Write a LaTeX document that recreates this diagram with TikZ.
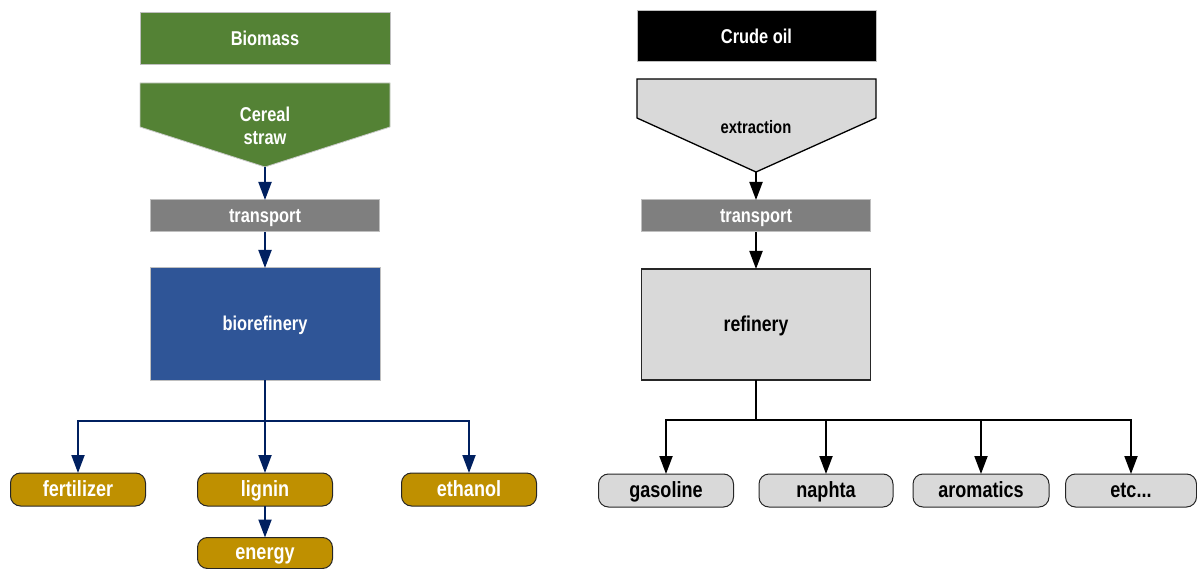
\documentclass[tikz,border=0pt]{standalone}
\usepackage{fontspec}
\newfontfamily\narrowsans{Liberation Sans}[FakeStretch=0.82]
\usetikzlibrary{arrows.meta}
\definecolor{leafgreen}{HTML}{548235}
\definecolor{plantblue}{HTML}{2F5597}
\definecolor{midgray}{HTML}{7F7F7F}
\definecolor{lightfill}{HTML}{D9D9D9}
\definecolor{gold}{HTML}{BF9000}
\definecolor{navy}{HTML}{002060}
\tikzset{
  base/.style={inner sep=0pt, outer sep=0pt, align=center,
    font=\narrowsans\bfseries\fontsize{20}{23}\selectfont},
  oneline/.style={base, text height=16.5pt, text depth=3pt},
  softbox/.style={oneline, draw=black!25, line width=1pt, text=white},
  darkbox/.style={oneline, draw=black!85, line width=1.3pt},
  product/.style={oneline, rounded corners=10pt, draw=black!85, line width=1pt,
    minimum height=33pt, font=\narrowsans\bfseries\fontsize{22}{24}\selectfont},
  bioflow/.style={draw=navy, line width=2pt},
  bioarrow/.style={bioflow, -{Triangle[width=13pt,length=18pt]}},
  oilflow/.style={draw=black, line width=2pt},
  oilarrow/.style={oilflow, -{Triangle[width=13pt,length=18pt]}},
}
\begin{document}
\begin{tikzpicture}[x=1pt,y=-1pt]
\useasboundingbox (0,0) rectangle (1197,569);

% ---------- biomass chain ----------
\node[softbox, fill=leafgreen, minimum width=250pt, minimum height=52pt] (biomass) at (265,39) {Biomass};
\draw[fill=leafgreen, draw=black!20, line width=0.8pt]
  (140,83) -- (390,83) -- (390,127) -- (265,167) -- (140,127) -- cycle;
\node[base, text=white] (straw) at (265,125.5) {Cereal\\straw};
\coordinate (strawtip) at (265,167);
\node[softbox, fill=midgray, minimum width=229pt, minimum height=32pt] (ltransport) at (265,216) {transport};
\node[softbox, fill=plantblue, minimum width=230pt, minimum height=112pt] (bioref) at (265,324) {biorefinery};

\node[product, fill=gold, text=white, minimum width=135pt] (fert) at (78,489.5) {fertilizer};
\node[product, fill=gold, text=white, minimum width=135pt] (lignin) at (265,489.5) {lignin};
\node[product, fill=gold, text=white, minimum width=135pt] (ethanol) at (469,489.5) {ethanol};
\node[product, fill=gold, text=white, minimum width=135pt, minimum height=31pt] (energy) at (265,553) {energy};

\draw[bioarrow] (strawtip) -- (ltransport.north);
\draw[bioarrow] (ltransport.south) -- (bioref.north);
\coordinate (lsplit) at (265,421);
\draw[bioflow] (bioref.south) -- (lsplit);
\draw[bioarrow] (lsplit) -| (fert.north);
\draw[bioarrow] (lsplit) -| (ethanol.north);
\draw[bioarrow] (lsplit) -- (lignin.north);
\draw[bioarrow] (lignin.south) -- (energy.north);

% ---------- crude oil chain ----------
\node[softbox, fill=black, minimum width=239pt, minimum height=51pt] (crude) at (756.5,36.5) {Crude oil};
\draw[fill=lightfill, draw=black, line width=1.3pt]
  (637,79) -- (876,79) -- (876,118) -- (756,172) -- (637,118) -- cycle;
\node[base, font=\narrowsans\bfseries\fontsize{18}{21}\selectfont] (extract) at (756,127) {extraction};
\coordinate (extracttip) at (756,172);
\node[softbox, fill=midgray, minimum width=229pt, minimum height=32pt] (rtransport) at (756,216) {transport};
\node[darkbox, fill=lightfill, minimum width=229pt, minimum height=111pt,
  font=\narrowsans\bfseries\fontsize{21.5}{24}\selectfont] (refinery) at (756,324.5) {refinery};

\node[product, fill=lightfill, minimum width=135pt] (gasoline) at (666,490.5) {gasoline};
\node[product, fill=lightfill, minimum width=134pt] (naphta) at (826,490.5) {naphta};
\node[product, fill=lightfill, minimum width=136pt] (aromatics) at (981,490.5) {aromatics};
\node[product, fill=lightfill, minimum width=131pt] (etc) at (1131,490.5) {etc...};

\draw[oilarrow] (extracttip) -- (rtransport.north);
\draw[oilarrow] (rtransport.south) -- (refinery.north);
\coordinate (rsplit) at (756,420);
\draw[oilflow] (refinery.south) -- (rsplit);
\draw[oilarrow] (rsplit) -| (gasoline.north);
\draw[oilarrow] (rsplit) -| (naphta.north);
\draw[oilarrow] (rsplit) -| (aromatics.north);
\draw[oilarrow] (rsplit) -| (etc.north);
\end{tikzpicture}
\end{document}
